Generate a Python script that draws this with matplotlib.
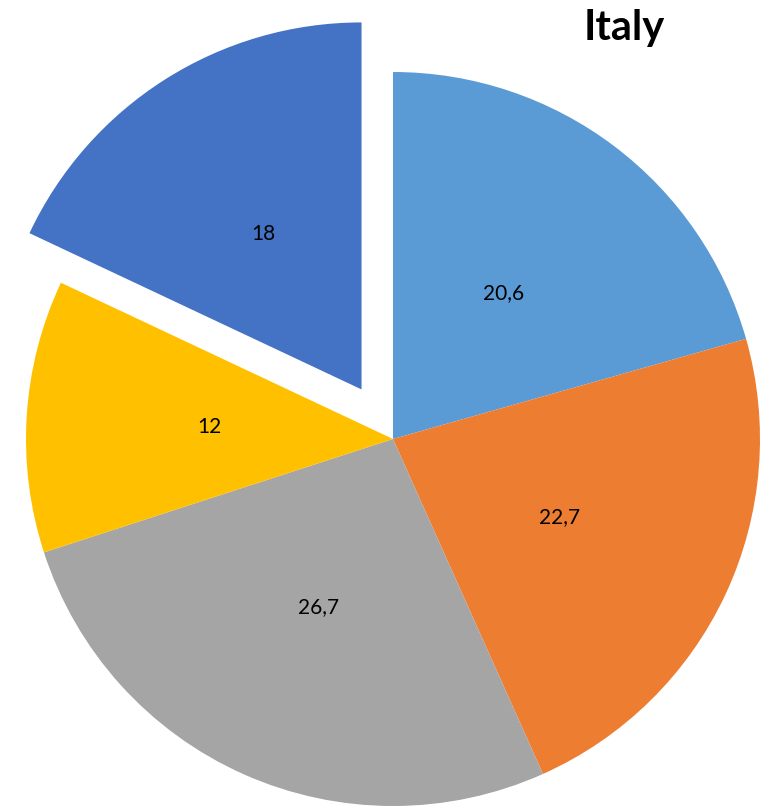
import matplotlib.pyplot as plt

# Share of each segment (%)
values = [20.6, 22.7, 26.7, 12, 18]
labels = ["20,6", "22,7", "26,7", "12", "18"]
colors = ["#5B9BD5", "#ED7D31", "#A5A5A5", "#FFC000", "#4472C4"]
explode = [0, 0, 0, 0, 0.16]

W, H = 762, 808
cx, cy, r = 393, H - 439, 367

fig = plt.figure(figsize=(W / 100, H / 100), dpi=100)
ax = fig.add_axes([0, 0, 1, 1])

# pie offsets exploded wedges in data units, so scale by the radius
wedges, texts = ax.pie(values, colors=colors, startangle=90, counterclock=False,
                       explode=[e * r for e in explode], radius=r, center=(cx, cy),
                       labels=labels, labeldistance=0.5,
                       wedgeprops=dict(linewidth=0, antialiased=True),
                       textprops=dict(fontsize=15, family="Lato", color="black",
                                      ha="center", va="center"))

ax.set_xlim(0, W)
ax.set_ylim(0, H)
ax.set_aspect("equal")
ax.axis("off")

fig.text(624 / W, 1 - 28 / H, "Italy", fontsize=30, fontweight="bold",
         family="Lato", ha="center", va="center")

fig.savefig("out.png", dpi=100, facecolor="white")
